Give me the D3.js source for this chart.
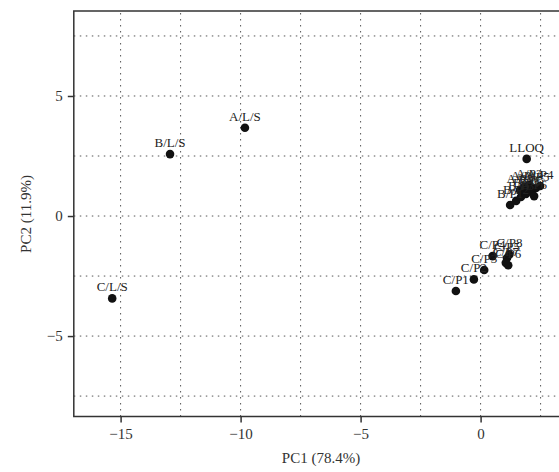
<!DOCTYPE html>
<html>
<head>
<meta charset="utf-8">
<script src="https://cdn.jsdelivr.net/npm/d3@7"></script>
<style>
  body { margin: 0; background: #fff; }
  svg { display: block; }
  .tick text { font-family: "Liberation Serif", "DejaVu Serif", serif; }
</style>
</head>
<body>
<div id="chart"></div>
<script>
'use strict';

// sample labels and PCA scores (PC1, PC2)
var labels = ['A/L/S', 'B/L/S', 'C/L/S', 'LLOQ',
    'B/P1', 'B/P2', 'B/P3', 'B/P4', 'B/P5', 'A/P5', 'A/P4', 'A/P1', 'A/P2', 'A/P3', 'B/P6',
    'C/P1', 'C/P2', 'C/P3', 'C/P4', 'C/P5', 'C/P6', 'C/P7', 'C/P8'];
var pc1 = [-9.82, -12.94, -15.35, 1.92,
    1.23, 1.48, 1.68, 1.89, 2.10, 2.31, 2.48, 1.81, 2.02, 1.64, 2.23,
    -1.03, -0.28, 0.15, 0.50, 1.10, 1.15, 1.05, 1.20];
var pc2 = [3.68, 2.58, -3.43, 2.38,
    0.46, 0.63, 0.79, 0.92, 1.04, 1.17, 1.25, 1.21, 1.29, 1.08, 0.83,
    -3.12, -2.64, -2.25, -1.67, -1.75, -2.05, -1.95, -1.60];

var xTicks = [-15, -10, -5, 0];
var yTicks = [-5, 0, 5];
var xGrid = [-15, -12.5, -10, -7.5, -5, -2.5, 0, 2.5];
var yGrid = [-7.5, -5, -2.5, 0, 2.5, 5, 7.5];

var width = 559;
var height = 472;

var svg = d3.select('#chart')
    .append('svg')
    .attr('width', width)
    .attr('height', height);

var x = d3.scaleLinear().domain([-16.95, 3.5]).range([73.8, 564.6]);
var y = d3.scaleLinear().domain([-8.35, 8.54]).range([416.5, 11]);

var serif = '"Liberation Serif", "DejaVu Serif", serif';

// dotted grid
svg.selectAll('.vgrid')
    .data(xGrid)
    .enter()
    .append('line')
    .attr('x1', function (d) { return x(d); })
    .attr('x2', function (d) { return x(d); })
    .attr('y1', y.range()[0])
    .attr('y2', y.range()[1])
    .attr('stroke', '#555')
    .attr('stroke-width', 1)
    .attr('stroke-dasharray', '1.5,4.5');

svg.selectAll('.hgrid')
    .data(yGrid)
    .enter()
    .append('line')
    .attr('y1', function (d) { return y(d); })
    .attr('y2', function (d) { return y(d); })
    .attr('x1', x.range()[0])
    .attr('x2', x.range()[1])
    .attr('stroke', '#555')
    .attr('stroke-width', 1)
    .attr('stroke-dasharray', '1.5,4.5');

// frame
svg.append('rect')
    .attr('x', x.range()[0])
    .attr('y', y.range()[1])
    .attr('width', x.range()[1] - x.range()[0])
    .attr('height', y.range()[0] - y.range()[1])
    .attr('fill', 'none')
    .attr('stroke', '#333')
    .attr('stroke-width', 1.5);

// axes
var xAxis = svg.append('g')
    .attr('transform', 'translate(0,' + y.range()[0] + ')')
    .call(d3.axisBottom(x).tickValues(xTicks).tickSize(6).tickPadding(6)
        .tickFormat(function (d) { return d < 0 ? '\u2212' + (-d) : d; }));
xAxis.select('.domain').remove();
xAxis.selectAll('.tick line').attr('stroke', '#333').attr('stroke-width', 1.5);
xAxis.selectAll('.tick text').attr('font-size', 15).attr('fill', '#333');

var yAxis = svg.append('g')
    .attr('transform', 'translate(' + x.range()[0] + ',0)')
    .call(d3.axisLeft(y).tickValues(yTicks).tickSize(6).tickPadding(5)
        .tickFormat(function (d) { return d < 0 ? '\u2212' + (-d) : d; }));
yAxis.select('.domain').remove();
yAxis.selectAll('.tick line').attr('stroke', '#333').attr('stroke-width', 1.5);
yAxis.selectAll('.tick text').attr('font-size', 15).attr('fill', '#333');

// axis titles
svg.append('text')
    .attr('x', 321)
    .attr('y', 463)
    .attr('text-anchor', 'middle')
    .attr('font-family', serif)
    .attr('font-size', 15)
    .attr('fill', '#333')
    .text('PC1 (78.4%)');

svg.append('text')
    .attr('transform', 'translate(31,214) rotate(-90)')
    .attr('text-anchor', 'middle')
    .attr('font-family', serif)
    .attr('font-size', 15)
    .attr('fill', '#333')
    .text('PC2 (11.9%)');

// points
var points = labels.map(function (name, i) {
    return { name: name, pc1: pc1[i], pc2: pc2[i] };
});

svg.selectAll('.pt')
    .data(points)
    .enter()
    .append('circle')
    .attr('cx', function (d) { return x(d.pc1); })
    .attr('cy', function (d) { return y(d.pc2); })
    .attr('r', 4.3)
    .attr('fill', '#111');

// labels sit just above each point (they overlap in the dense clusters, as in the original)
svg.selectAll('.lbl')
    .data(points)
    .enter()
    .append('text')
    .attr('x', function (d) { return x(d.pc1); })
    .attr('y', function (d) { return y(d.pc2) - 7; })
    .attr('text-anchor', 'middle')
    .attr('font-family', serif)
    .attr('font-size', 13)
    .attr('fill', '#222')
    .text(function (d) { return d.name; });
</script>
</body>
</html>
